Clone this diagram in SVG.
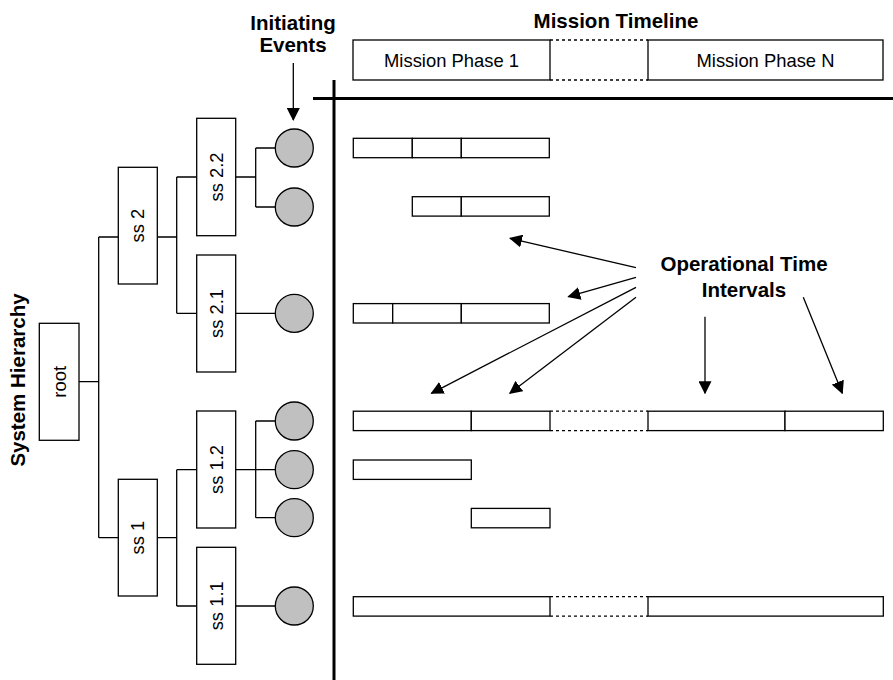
<svg xmlns="http://www.w3.org/2000/svg" width="893" height="680" viewBox="0 0 893 680">
<style>
  .bx{fill:#fff;stroke:#000;stroke-width:1.3}
  .ln{fill:none;stroke:#000;stroke-width:1.3}
  .dot{fill:none;stroke:#000;stroke-width:1.3;stroke-dasharray:3 3}
  .thick{fill:none;stroke:#000;stroke-width:3}
  .ie{fill:#c0c0c0;stroke:#000;stroke-width:1.3}
  .t{font-family:"Liberation Sans",Arial,sans-serif;font-size:18.4px;fill:#000;text-anchor:middle}
  .h{font-family:"Liberation Sans",Arial,sans-serif;font-size:20.5px;font-weight:bold;fill:#000;text-anchor:middle}
  .arr{fill:none;stroke:#000;stroke-width:1.3;marker-end:url(#ah)}
</style>
<defs>
  <marker id="ah" viewBox="0 0 13 13" refX="12" refY="6.5" markerWidth="13" markerHeight="13" markerUnits="userSpaceOnUse" orient="auto">
    <path d="M0,0 L13,6.5 L0,13 z" fill="#000"/>
  </marker>
</defs>
<rect width="893" height="680" fill="#fff"/>

<!-- titles -->
<g id="title-initiating">
  <text class="h" x="293" y="30">Initiating</text>
  <text class="h" x="293" y="52">Events</text>
</g>
<g id="title-mission-timeline"><text class="h" x="616" y="28">Mission Timeline</text></g>
<g id="title-system-hierarchy"><text class="h" transform="translate(25,380) rotate(-90)" x="0" y="0">System Hierarchy</text></g>
<g id="title-operational">
  <text class="h" x="744" y="270.7">Operational Time</text>
  <text class="h" x="744" y="296.7">Intervals</text>
</g>

<!-- axes -->
<g id="axes">
  <line class="thick" x1="334" y1="80" x2="334" y2="680"/>
  <line class="thick" x1="313" y1="98.5" x2="893" y2="98.5"/>
</g>

<!-- mission timeline header -->
<g id="phase-1">
  <rect class="bx" x="353" y="40" width="197" height="40"/>
  <text class="t" x="451.5" y="66.7">Mission Phase 1</text>
</g>
<g id="phase-gap">
  <line class="dot" x1="550" y1="40" x2="648" y2="40"/>
  <line class="dot" x1="550" y1="80" x2="648" y2="80"/>
</g>
<g id="phase-n">
  <rect class="bx" x="648" y="40" width="235" height="40"/>
  <text class="t" x="765.5" y="66.7">Mission Phase N</text>
</g>

<!-- connectors -->
<g id="connectors">
  <path class="ln" d="M79,381.7 H98.7 M98.7,237 V537.7 M98.7,237 H118.3 M98.7,537.7 H118.3"/>
  <path class="ln" d="M157.3,237 H176.7 M176.7,177 V313.3 M176.7,177 H196.7 M176.7,313.3 H196.7"/>
  <path class="ln" d="M235.7,177 H255.7 M255.7,148 V207 M255.7,148 H275.3 M255.7,207 H275.3"/>
  <path class="ln" d="M235.7,313.3 H275.3"/>
  <path class="ln" d="M157.3,537.7 H176.7 M176.7,469.7 V606 M176.7,469.7 H196.7 M176.7,606 H196.7"/>
  <path class="ln" d="M235.7,469.7 H275.3 M255.7,421 V517.7 M255.7,421 H275.3 M255.7,517.7 H275.3"/>
  <path class="ln" d="M235.7,606 H275.3"/>
  <line class="arr" x1="293.3" y1="63" x2="293.3" y2="120"/>
  <line class="arr" x1="636" y1="267.7" x2="510" y2="238.3"/>
  <line class="arr" x1="636" y1="277.3" x2="568.3" y2="296.7"/>
  <line class="arr" x1="636" y1="287.3" x2="431.4" y2="393.3"/>
  <line class="arr" x1="636" y1="297.3" x2="509.8" y2="393.3"/>
  <line class="arr" x1="705" y1="316.7" x2="705" y2="393.3"/>
  <line class="arr" x1="803.3" y1="297.3" x2="842.3" y2="393.3"/>
</g>

<!-- hierarchy nodes -->
<g id="root">
  <rect class="bx" x="39.3" y="323.3" width="39.7" height="117"/>
  <text class="t" transform="translate(59.2,381.8) rotate(-90)" x="0" y="6.4">root</text>
</g>
<g id="ss2">
  <rect class="bx" x="118.3" y="167.3" width="39" height="116.7"/>
  <text class="t" transform="translate(137.8,225.7) rotate(-90)" x="0" y="6.4">ss 2</text>
</g>
<g id="ss2-2">
  <rect class="bx" x="196.7" y="118.3" width="39" height="117.4"/>
  <text class="t" transform="translate(216.2,177) rotate(-90)" x="0" y="6.4">ss 2.2</text>
</g>
<g id="ss2-1">
  <rect class="bx" x="196.7" y="255" width="39" height="117"/>
  <text class="t" transform="translate(216.2,313.5) rotate(-90)" x="0" y="6.4">ss 2.1</text>
</g>
<g id="ss1">
  <rect class="bx" x="118.3" y="479.3" width="39" height="116.7"/>
  <text class="t" transform="translate(137.8,537.7) rotate(-90)" x="0" y="6.4">ss 1</text>
</g>
<g id="ss1-2">
  <rect class="bx" x="196.7" y="411" width="39" height="117"/>
  <text class="t" transform="translate(216.2,469.5) rotate(-90)" x="0" y="6.4">ss 1.2</text>
</g>
<g id="ss1-1">
  <rect class="bx" x="196.7" y="547.3" width="39" height="117"/>
  <text class="t" transform="translate(216.2,605.8) rotate(-90)" x="0" y="6.4">ss 1.1</text>
</g>

<!-- initiating events -->
<g id="ie-1"><circle class="ie" cx="294.3" cy="148" r="19"/></g>
<g id="ie-2"><circle class="ie" cx="294.3" cy="207" r="19"/></g>
<g id="ie-3"><circle class="ie" cx="294.3" cy="313.3" r="19"/></g>
<g id="ie-4"><circle class="ie" cx="294.3" cy="421" r="19"/></g>
<g id="ie-5"><circle class="ie" cx="294.3" cy="469.7" r="19"/></g>
<g id="ie-6"><circle class="ie" cx="294.3" cy="517.7" r="19"/></g>
<g id="ie-7"><circle class="ie" cx="294.3" cy="606" r="19"/></g>

<!-- operational time interval bars -->
<g id="row-1">
  <rect class="bx" x="353.3" y="138.3" width="59" height="19.4"/>
  <rect class="bx" x="412.3" y="138.3" width="49" height="19.4"/>
  <rect class="bx" x="461.3" y="138.3" width="88" height="19.4"/>
</g>
<g id="row-2">
  <rect class="bx" x="412.3" y="196.7" width="49" height="19.4"/>
  <rect class="bx" x="461.3" y="196.7" width="88" height="19.4"/>
</g>
<g id="row-3">
  <rect class="bx" x="353.3" y="303.6" width="39.4" height="19.4"/>
  <rect class="bx" x="392.7" y="303.6" width="68.6" height="19.4"/>
  <rect class="bx" x="461.3" y="303.6" width="88" height="19.4"/>
</g>
<g id="row-4">
  <rect class="bx" x="353.3" y="411.2" width="118" height="19.4"/>
  <rect class="bx" x="471.3" y="411.2" width="78.7" height="19.4"/>
  <line class="dot" x1="550" y1="411.2" x2="648" y2="411.2"/>
  <line class="dot" x1="550" y1="430.6" x2="648" y2="430.6"/>
  <rect class="bx" x="648" y="411.2" width="137" height="19.4"/>
  <rect class="bx" x="785" y="411.2" width="98.3" height="19.4"/>
</g>
<g id="row-5">
  <rect class="bx" x="353.3" y="460" width="118" height="19.4"/>
</g>
<g id="row-6">
  <rect class="bx" x="471.3" y="508.4" width="78.7" height="19.4"/>
</g>
<g id="row-7">
  <rect class="bx" x="353.3" y="596.7" width="196.7" height="19.4"/>
  <line class="dot" x1="550" y1="596.7" x2="648" y2="596.7"/>
  <line class="dot" x1="550" y1="616.1" x2="648" y2="616.1"/>
  <rect class="bx" x="648" y="596.7" width="235.3" height="19.4"/>
</g>
</svg>
